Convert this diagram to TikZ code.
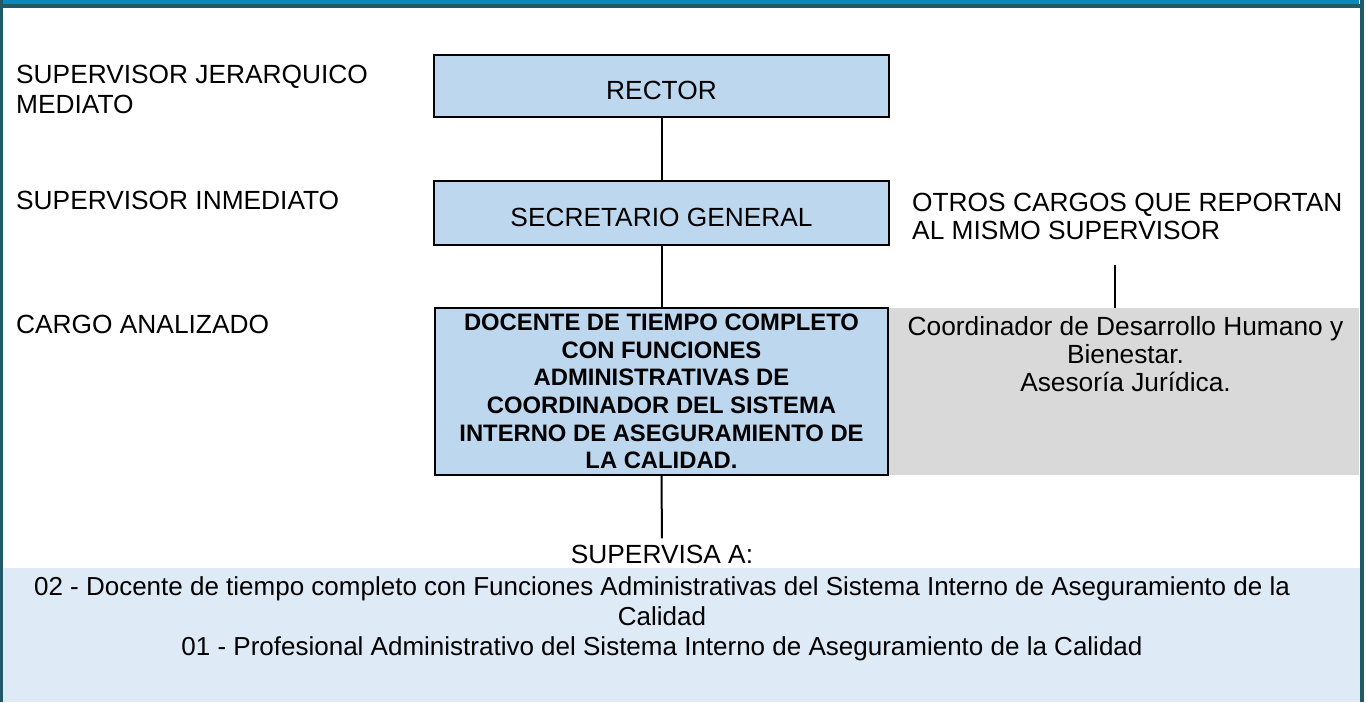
\documentclass[tikz,border=0pt]{standalone}
\usepackage{fontspec}
\setmainfont{Liberation Sans}
\definecolor{topblue}{HTML}{0A88BC}
\definecolor{framecol}{HTML}{205A69}
\definecolor{boxblue}{HTML}{BDD7EE}
\definecolor{boxgray}{HTML}{D9D9D9}
\definecolor{lightblue}{HTML}{DEEAF6}
\begin{document}
\begin{tikzpicture}[x=1pt,y=-1pt,
  txt/.style={font=\fontsize{26.3}{28.3}\selectfont, inner sep=0pt},
  bluebox/.style={draw=black, line width=2.2pt, fill=boxblue, inner sep=0pt},
  conn/.style={line width=2pt}]
\useasboundingbox (0,0) rectangle (1367,702);
\fill[white] (0,0) rectangle (1367,702);
\fill[lightblue] (3,568) rectangle (1360,702);
\fill[topblue] (0,0) rectangle (1359,4);
\fill[framecol] (3,4) rectangle (1360,7.5);
\fill[framecol] (0,0) rectangle (3,702);
\fill[framecol] (1360,0) rectangle (1364,702);

% left labels
\node[txt, anchor=north west, align=left, font=\fontsize{26.3}{30}\selectfont] (lab1) at (16,64.6) {SUPERVISOR JERARQUICO\\MEDIATO};
\node[txt, anchor=base west] (lab2) at (16,209) {SUPERVISOR INMEDIATO};
\node[txt, anchor=base west] (lab3) at (16,333) {CARGO ANALIZADO};

% boxes
\node[bluebox, txt, text height=26pt, text depth=0pt, minimum width=455pt, minimum height=62pt] (rector) at (661.5,86) {RECTOR};
\node[bluebox, txt, text height=26pt, text depth=0pt, minimum width=455pt, minimum height=64pt] (secre) at (661.5,213) {SECRETARIO GENERAL};
\node[fill=boxgray, inner sep=0pt, minimum width=471pt, minimum height=167pt] (gray) at (1123.5,391.5) {};
\node[bluebox, align=center, font=\fontsize{23.8}{27.7}\selectfont\bfseries, minimum width=453pt, minimum height=167pt] (docente) at (661.5,391.5)
  {DOCENTE DE TIEMPO COMPLETO\\CON FUNCIONES\\ADMINISTRATIVAS DE\\COORDINADOR DEL SISTEMA\\INTERNO DE ASEGURAMIENTO DE\\LA CALIDAD.};

\node[txt, anchor=north west, align=left, font=\fontsize{26.3}{28.5}\selectfont] (otros) at (912,192.6) {OTROS CARGOS QUE REPORTAN\\AL MISMO SUPERVISOR};
\node[txt, anchor=north, align=center] (graytxt) at (1125.5,316) {Coordinador de Desarrollo Humano y\\Bienestar.\\Asesoría Jurídica.};
\coordinate (otrosbot) at (1115,265);

\node[txt, anchor=base] (supervisa) at (662,563) {SUPERVISA A:};
\node[txt, anchor=north, align=center, font=\fontsize{26}{30}\selectfont] (bottom) at (662,576.6) {02 - Docente de tiempo completo con Funciones Administrativas del Sistema Interno de Aseguramiento de la\\Calidad\\01 - Profesional Administrativo del Sistema Interno de Aseguramiento de la Calidad};

% connectors
\draw[conn] (rector.south) -- (secre.north);
\draw[conn] (secre.south) -- (docente.north);
\draw[conn, shorten >=6pt] (docente.south) -- (supervisa.north);
\draw[conn] (otrosbot) -- (otrosbot |- gray.north);
\end{tikzpicture}
\end{document}
